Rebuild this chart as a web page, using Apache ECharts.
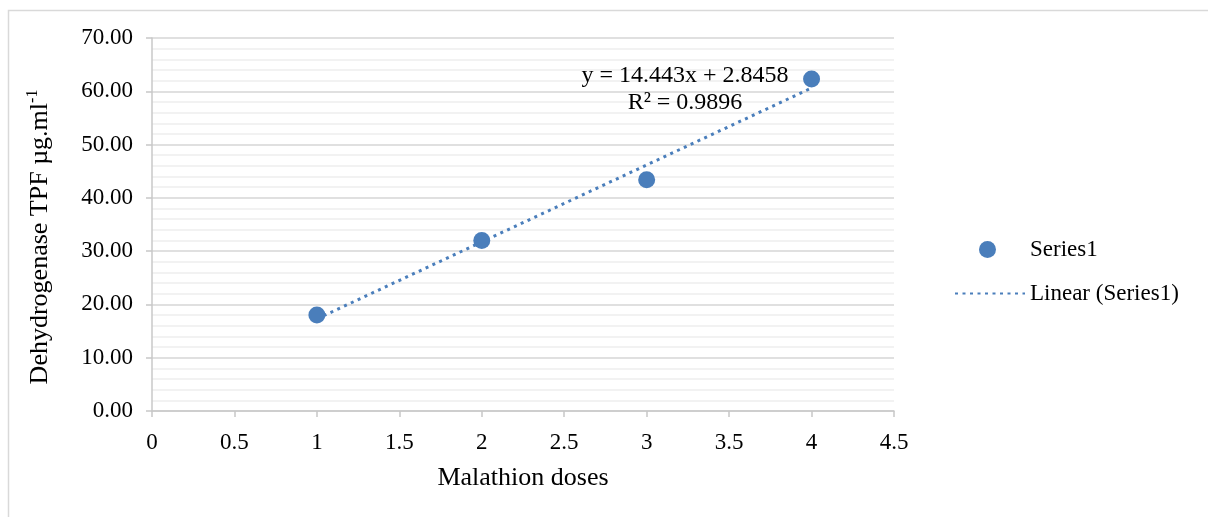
<!DOCTYPE html>
<html>
<head>
<meta charset="utf-8">
<script src="https://cdn.jsdelivr.net/npm/echarts@6/dist/echarts.min.js"></script>
<style>html,body{margin:0;padding:0;background:#fff;}#c{width:1208px;height:517px;}</style>
</head>
<body>
<div id="c"></div>
<script>
const doses = [1, 2, 3, 4];
const tpf = [18.0, 32.0, 43.4, 62.3];
const trendSlope = 14.443;
const trendIntercept = 2.8458;
const trendText = ['y = 14.443x + 2.8458', 'R² = 0.9896'];
const seriesName = 'Series1';
const trendName = 'Linear (Series1)';

const points = doses.map((d, i) => [d, tpf[i]]);
const xs0 = doses[0], xs1 = doses[doses.length - 1];
const trend = [[xs0, trendSlope * xs0 + trendIntercept], [xs1, trendSlope * xs1 + trendIntercept]];

const BLUE = '#4a7ebb';
const FONT = '"Liberation Serif", "Times New Roman", serif';

const chart = echarts.init(document.getElementById('c'), null, {renderer: 'canvas'});
chart.setOption({
  animation: false,
  backgroundColor: '#fff',
  textStyle: {fontFamily: FONT},
  grid: {left: 152, right: 314, top: 38, bottom: 106, containLabel: false},
  xAxis: {
    type: 'value', min: 0, max: 4.5, interval: 0.5,
    name: 'Malathion doses', nameLocation: 'middle', nameGap: 54,
    nameTextStyle: {fontFamily: FONT, fontSize: 26, color: '#000'},
    axisLine: {show: true, onZero: false, lineStyle: {color: '#c8c8c8', width: 1.5}},
    axisTick: {show: true, length: 6, lineStyle: {color: '#c8c8c8', width: 1.5}},
    axisLabel: {fontFamily: FONT, fontSize: 23, color: '#000', margin: 20},
    splitLine: {show: false}
  },
  yAxis: {
    type: 'value', min: 0, max: 70, interval: 10,
    name: '{a|Dehydrogenase TPF µg.ml}{s|-1}', nameLocation: 'middle', nameGap: 97,
    nameTextStyle: {
      fontFamily: FONT, fontSize: 26, color: '#000', padding: [0, 25, 0, 0],
      rich: {
        a: {fontFamily: FONT, fontSize: 26, color: '#000'},
        s: {fontFamily: FONT, fontSize: 16, color: '#000', padding: [0, 0, 14, 0]}
      }
    },
    axisLine: {show: true, lineStyle: {color: '#c8c8c8', width: 1.5}},
    axisTick: {show: true, length: 6, lineStyle: {color: '#c8c8c8', width: 1.5}},
    axisLabel: {fontFamily: FONT, fontSize: 23, color: '#000', margin: 19,
      formatter: v => v.toFixed(2)},
    splitLine: {show: true, lineStyle: {color: '#d6d6d6', width: 1.5}},
    minorTick: {show: false, splitNumber: 5},
    minorSplitLine: {show: true, lineStyle: {color: '#eeeeee', width: 1.5}}
  },
  legend: [
    {data: [seriesName], orient: 'vertical', left: 974, top: 233,
      itemWidth: 17, itemHeight: 17, icon: 'circle',
      textStyle: {fontFamily: FONT, fontSize: 23, color: '#000', padding: [0, 0, 0, 29]}},
    {data: [trendName], orient: 'vertical', left: 949, top: 277,
      itemWidth: 70, itemHeight: 14,
      itemStyle: {opacity: 0},
      textStyle: {fontFamily: FONT, fontSize: 23, color: '#000', padding: [0, 0, 0, 0]}}
  ],
  graphic: [
    {type: 'rect', left: 6, top: 8, silent: true, z: -10,
      shape: {width: 1300, height: 600},
      style: {fill: 'none', stroke: '#d9d9d9', lineWidth: 1.5}},
    {type: 'text', x: 685, y: 62, silent: true, z: 100,
      style: {text: trendText.join('\n'), font: '24px ' + FONT, fill: '#000',
        align: 'center', lineHeight: 27}}
  ],
  series: [
    {
      name: trendName, type: 'line', data: trend, symbol: 'none', showSymbol: false,
      lineStyle: {color: BLUE, width: 3, type: [3, 4.5]}, itemStyle: {color: BLUE},
      z: 2, silent: true
    },
    {
      name: seriesName, type: 'scatter', data: points, symbol: 'circle', symbolSize: 17,
      itemStyle: {color: BLUE, opacity: 1}, z: 3
    }
  ]
});
</script>
</body>
</html>
